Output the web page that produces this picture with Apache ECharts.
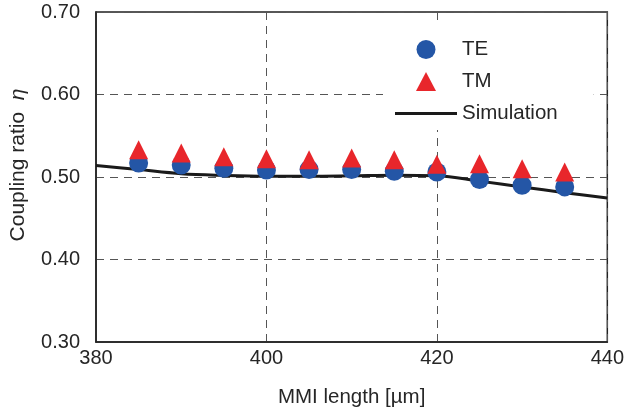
<!DOCTYPE html>
<html>
<head>
<meta charset="utf-8">
<script src="https://cdn.jsdelivr.net/npm/echarts@6/dist/echarts.min.js"></script>
<style>
  html, body { margin: 0; padding: 0; background: #fff; }
  #chart { width: 627px; height: 414px; }
</style>
</head>
<body>
<div id="chart"></div>
<script>
// MMI length sweep (µm) for the measured points
const mmiLength = [385, 390, 395, 400, 405, 410, 415, 420, 425, 430, 435];
// Measured coupling ratio, TE polarisation
const teRatio = [0.517, 0.5145, 0.5105, 0.5085, 0.509, 0.509, 0.507, 0.506, 0.497, 0.490, 0.488];
// Measured coupling ratio, TM polarisation
const tmRatio = [0.533, 0.529, 0.5246, 0.5222, 0.521, 0.523, 0.521, 0.5154, 0.516, 0.510, 0.506];
// Simulated coupling ratio curve
const simLength = [380, 385, 390, 395, 400, 405, 410, 415, 420, 425, 430, 435, 440];
const simRatio = [0.514, 0.509, 0.504, 0.502, 0.501, 0.501, 0.5015, 0.5022, 0.5015, 0.495, 0.488, 0.481, 0.4745];
// Axis ticks
const xTicks = [380, 400, 420, 440];
const yTicks = [0.30, 0.40, 0.50, 0.60, 0.70];

const FONT = '"Liberation Sans", Arial, Helvetica, sans-serif';
const TEXT = '#262626';

const pair = (xs, ys) => xs.map((x, i) => [x, ys[i]]);

const chart = echarts.init(document.getElementById('chart'), null, { renderer: 'canvas' });
chart.setOption({
  animation: false,
  backgroundColor: '#fff',
  textStyle: { fontFamily: FONT, color: TEXT },
  grid: {
    left: 96, right: 16, top: 12, bottom: 72,
    show: true, borderColor: '#222', borderWidth: 1.5, backgroundColor: 'transparent'
  },
  legend: {
    orient: 'vertical',
    left: 383, top: 26,
    padding: [13, 36, 6, 12],
    backgroundColor: '#fff',
    itemWidth: 62, itemHeight: 19, itemGap: 11,
    symbolKeepAspect: true,
    textStyle: { fontFamily: FONT, fontSize: 20.5, color: TEXT },
    data: [
      { name: 'TE', icon: 'circle' },
      { name: 'TM', icon: 'path://M0,-9.5L10,9.5L-10,9.5Z' },
      { name: 'Simulation', icon: 'path://M0,0L62,0L62,3L0,3Z' }
    ]
  },
  xAxis: {
    type: 'value',
    min: xTicks[0], max: xTicks[xTicks.length - 1], interval: 20,
    name: 'MMI length [µm]',
    nameLocation: 'middle', nameGap: 45,
    nameTextStyle: { fontFamily: FONT, fontSize: 20.5, color: TEXT },
    axisLine: { show: true, lineStyle: { color: '#222', width: 1.5 } },
    axisTick: { show: false },
    axisLabel: { margin: 6, fontFamily: FONT, fontSize: 20, color: TEXT },
    splitLine: { show: true, lineStyle: { color: '#555', type: [8, 6], width: 1 } }
  },
  yAxis: {
    type: 'value',
    min: yTicks[0], max: yTicks[yTicks.length - 1], interval: 0.1,
    name: '{a|Coupling ratio}  {b|η}',
    nameLocation: 'middle', nameGap: 67,
    nameTextStyle: {
      fontFamily: FONT, fontSize: 21, color: TEXT,
      padding: [0, 0, 0, 24],
      rich: {
        a: { fontFamily: FONT, fontSize: 21, color: TEXT },
        b: { fontFamily: FONT, fontSize: 21, color: TEXT, fontStyle: 'italic' }
      }
    },
    axisLine: { show: true, lineStyle: { color: '#222', width: 1.5 } },
    axisTick: { show: false },
    axisLabel: {
      margin: 16, fontFamily: FONT, fontSize: 20, color: TEXT,
      formatter: v => v.toFixed(2)
    },
    splitLine: { show: true, lineStyle: { color: '#555', type: [8, 6], width: 1 } }
  },
  series: [
    {
      name: 'Simulation',
      type: 'line',
      data: pair(simLength, simRatio),
      smooth: 0.35,
      showSymbol: false,
      symbol: 'none',
      lineStyle: { color: '#1a1a1a', width: 3 },
      itemStyle: { color: '#1a1a1a' },
      z: 2
    },
    {
      name: 'TE',
      type: 'scatter',
      data: pair(mmiLength, teRatio),
      symbol: 'circle',
      symbolSize: 19,
      itemStyle: { color: '#2456a6', opacity: 1 },
      z: 3
    },
    {
      name: 'TM',
      type: 'scatter',
      data: pair(mmiLength, tmRatio),
      symbol: 'triangle',
      symbolSize: 19,
      itemStyle: { color: '#e8262b', opacity: 1 },
      z: 4
    }
  ]
});
</script>
</body>
</html>
